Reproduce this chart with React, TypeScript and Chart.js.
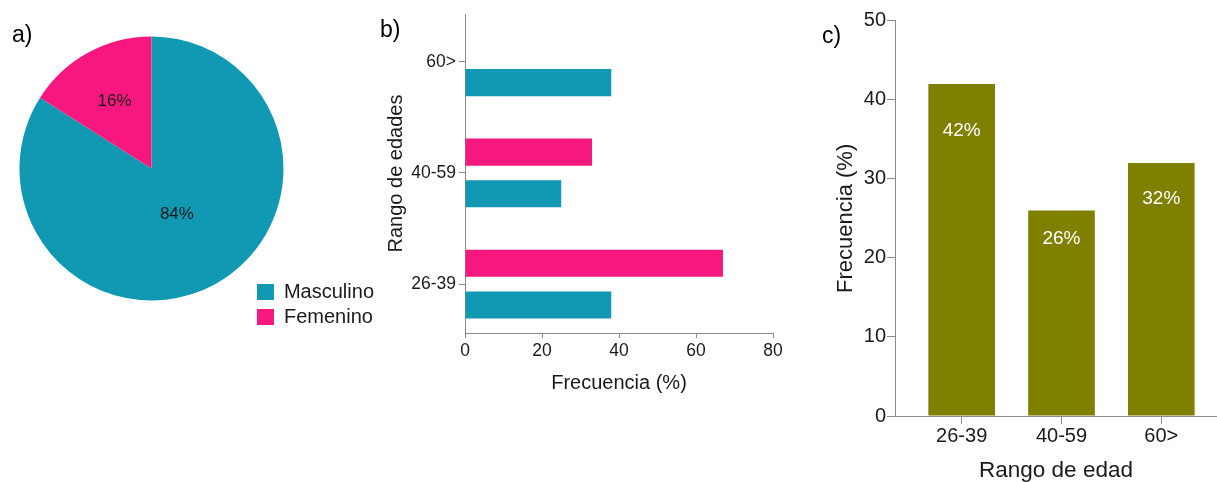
import React, { useEffect, useRef } from 'react';
import { Chart, registerables } from 'chart.js';

Chart.register(...registerables);

const FONT = "'Liberation Sans', Arial, Helvetica, sans-serif";
const TEXT = '#1a1a1a';
const AXIS = '#8a8a8a';

// ---- Panel a: sex distribution ----
const sexLabels = ['Masculino', 'Femenino'];
const sexValues = [84, 16];
const sexColors = ['#1199B3', '#F6187F'];

// ---- Panel b: age range by sex (%) ----
const ageLabelsB = ['26-39', '40-59', '60>'];
const femeninoByAge = [67, 33, 0];
const masculinoByAge = [38, 25, 38];

// ---- Panel c: age range total (%) ----
const ageLabelsC = ['26-39', '40-59', '60>'];
const totalByAge = [42, 26, 32];

const panelLetter = {
  id: 'panelLetter',
  afterDraw(chart: any, _args: any, opts: any) {
    if (!opts || !opts.text) return;
    const ctx = chart.ctx;
    ctx.save();
    ctx.font = `${opts.size}px ${FONT}`;
    ctx.fillStyle = '#000';
    ctx.textAlign = 'left';
    ctx.textBaseline = 'alphabetic';
    ctx.fillText(opts.text, opts.x, opts.y);
    ctx.restore();
  },
};

const pieLabels = {
  id: 'pieLabels',
  afterDatasetsDraw(chart: any, _args: any, opts: any) {
    if (!opts || !opts.enabled) return;
    const meta = chart.getDatasetMeta(0);
    const ctx = chart.ctx;
    ctx.save();
    ctx.font = `${opts.size}px ${FONT}`;
    ctx.fillStyle = opts.color;
    ctx.textAlign = 'center';
    ctx.textBaseline = 'middle';
    meta.data.forEach((arc: any, i: number) => {
      const p = arc.getProps(['x', 'y', 'startAngle', 'endAngle', 'outerRadius']);
      const mid = (p.startAngle + p.endAngle) / 2;
      const r = p.outerRadius * opts.fractions[i];
      const v = chart.data.datasets[0].data[i];
      ctx.fillText(`${v}%`, p.x + Math.cos(mid) * r, p.y + Math.sin(mid) * r);
    });
    ctx.restore();
  },
};

const barValueLabels = {
  id: 'barValueLabels',
  afterDatasetsDraw(chart: any, _args: any, opts: any) {
    if (!opts || !opts.enabled) return;
    const meta = chart.getDatasetMeta(0);
    const yScale = chart.scales.y;
    const ctx = chart.ctx;
    ctx.save();
    ctx.font = `${opts.size}px ${FONT}`;
    ctx.fillStyle = opts.color;
    ctx.textAlign = 'center';
    ctx.textBaseline = 'middle';
    meta.data.forEach((bar: any, i: number) => {
      const v = totalByAge[i];
      ctx.fillText(`${v}%`, bar.x, yScale.getPixelForValue(v * opts.depth));
    });
    ctx.restore();
  },
};

function useChart(ref: React.RefObject<HTMLCanvasElement>, makeConfig: () => any) {
  useEffect(() => {
    if (!ref.current) return;
    const chart = new Chart(ref.current, makeConfig());
    return () => chart.destroy();
  }, []);
}

function PieChart() {
  const ref = useRef<HTMLCanvasElement>(null);
  useChart(ref, () => ({
    type: 'pie',
    data: {
      labels: sexLabels,
      datasets: [
        {
          data: sexValues,
          backgroundColor: sexColors,
          borderWidth: 0,
          radius: 132,
        },
      ],
    },
    options: {
      animation: false,
      responsive: false,
      layout: { padding: { left: 51, top: 5, right: 10, bottom: 8 } },
      plugins: {
        legend: {
          position: 'right',
          align: 'end',
          labels: {
            boxWidth: 17,
            boxHeight: 16,
            padding: 5,
            color: TEXT,
            font: { family: FONT, size: 20 },
          },
        },
        tooltip: { enabled: false },
        panelLetter: { text: 'a)', x: 12, y: 42, size: 23 },
        pieLabels: { enabled: true, fractions: [0.4, 0.58], size: 17, color: TEXT },
      },
    },
    plugins: [panelLetter, pieLabels],
  }));
  return <canvas ref={ref} width={394} height={340} style={{ width: 394, height: 340, display: 'block' }} />;
}

function HBarChart() {
  const ref = useRef<HTMLCanvasElement>(null);
  useChart(ref, () => ({
    type: 'bar',
    data: {
      datasets: [
        {
          label: 'Femenino',
          data: femeninoByAge.map((v, i) => ({ x: v, y: i })),
          backgroundColor: sexColors[1],
          borderWidth: 0,
          categoryPercentage: 0.75,
          barPercentage: 0.65,
        },
        {
          label: 'Masculino',
          data: masculinoByAge.map((v, i) => ({ x: v, y: i })),
          backgroundColor: sexColors[0],
          borderWidth: 0,
          categoryPercentage: 0.75,
          barPercentage: 0.65,
        },
      ],
    },
    options: {
      animation: false,
      responsive: false,
      indexAxis: 'y',
      layout: { padding: { left: 0, top: 14, right: 20, bottom: 0 } },
      scales: {
        x: {
          type: 'linear',
          position: 'bottom',
          min: 0,
          max: 80,
          ticks: { stepSize: 20, color: TEXT, padding: 3, font: { family: FONT, size: 17.5 } },
          grid: { display: true, drawOnChartArea: false, drawTicks: true, tickLength: 5, color: AXIS },
          border: { display: true, color: AXIS, width: 1 },
          title: {
            display: true,
            text: 'Frecuencia (%)',
            color: TEXT,
            font: { family: FONT, size: 20 },
            padding: { top: 0, bottom: 8 },
          },
          afterFit: (s: any) => {
            s.height = 70;
          },
        },
        y: {
          type: 'linear',
          position: 'left',
          offset: false,
          min: -0.44,
          max: 2.43,
          afterBuildTicks: (s: any) => {
            s.ticks = ageLabelsB.map((_, i) => ({ value: i }));
          },
          ticks: {
            color: TEXT,
            padding: 3,
            font: { family: FONT, size: 17.5 },
            callback: (v: any) => ageLabelsB[v] ?? '',
          },
          grid: { display: true, offset: false, drawOnChartArea: false, drawTicks: true, tickLength: 6, color: AXIS },
          border: { display: true, color: AXIS, width: 1 },
          title: {
            display: true,
            text: 'Rango de edades',
            color: TEXT,
            font: { family: FONT, size: 20 },
            padding: { top: 14, bottom: 0 },
          },
          afterFit: (s: any) => {
            s.width = 95;
          },
        },
      },
      plugins: {
        legend: { display: false },
        tooltip: { enabled: false },
        panelLetter: { text: 'b)', x: 10, y: 37, size: 23 },
      },
    },
    plugins: [panelLetter],
  }));
  return <canvas ref={ref} width={423} height={403} style={{ width: 423, height: 403, display: 'block' }} />;
}

function VBarChart() {
  const ref = useRef<HTMLCanvasElement>(null);
  useChart(ref, () => ({
    type: 'bar',
    data: {
      datasets: [
        {
          label: 'Frecuencia',
          data: totalByAge.map((v, i) => ({ x: i, y: v })),
          backgroundColor: '#808000',
          borderWidth: 0,
          categoryPercentage: 1,
          barPercentage: 0.668,
        },
      ],
    },
    options: {
      animation: false,
      responsive: false,
      layout: { padding: { left: 0, top: 20.7, right: 0, bottom: 0 } },
      scales: {
        x: {
          type: 'linear',
          position: 'bottom',
          offset: false,
          min: -0.668,
          max: 2.558,
          afterBuildTicks: (s: any) => {
            s.ticks = ageLabelsC.map((_, i) => ({ value: i }));
          },
          ticks: {
            color: TEXT,
            padding: 0,
            font: { family: FONT, size: 20 },
            callback: (v: any) => ageLabelsC[v] ?? '',
          },
          grid: { display: true, offset: false, drawOnChartArea: false, drawTicks: true, tickLength: 8, color: AXIS },
          border: { display: true, color: AXIS, width: 1 },
          title: {
            display: true,
            text: 'Rango de edad',
            color: TEXT,
            font: { family: FONT, size: 22.5 },
            padding: { top: 0, bottom: -2 },
          },
          afterFit: (s: any) => {
            s.height = 66;
          },
        },
        y: {
          type: 'linear',
          position: 'left',
          min: 0,
          max: 50,
          ticks: { stepSize: 10, color: TEXT, padding: 1, font: { family: FONT, size: 20 } },
          grid: { display: true, drawOnChartArea: false, drawTicks: true, tickLength: 8, color: AXIS },
          border: { display: true, color: AXIS, width: 1 },
          title: {
            display: true,
            text: 'Frecuencia (%)',
            color: TEXT,
            font: { family: FONT, size: 22 },
            padding: { top: 12.8, bottom: 0 },
          },
          afterFit: (s: any) => {
            s.width = 75;
          },
        },
      },
      plugins: {
        legend: { display: false },
        tooltip: { enabled: false },
        panelLetter: { text: 'c)', x: 2, y: 42.5, size: 23 },
        barValueLabels: { enabled: true, depth: 0.86, size: 19, color: '#ffffff' },
      },
    },
    plugins: [panelLetter, barValueLabels],
  }));
  return <canvas ref={ref} width={397} height={482} style={{ width: 397, height: 482, display: 'block' }} />;
}

export default function App() {
  return (
    <div style={{ position: 'absolute', left: 0, top: 0, width: 1217, height: 482, background: '#fff', overflow: 'hidden' }}>
      <div style={{ position: 'absolute', left: 0, top: 0 }}>
        <PieChart />
      </div>
      <div style={{ position: 'absolute', left: 370, top: 0 }}>
        <HBarChart />
      </div>
      <div style={{ position: 'absolute', left: 820, top: 0 }}>
        <VBarChart />
      </div>
    </div>
  );
}
